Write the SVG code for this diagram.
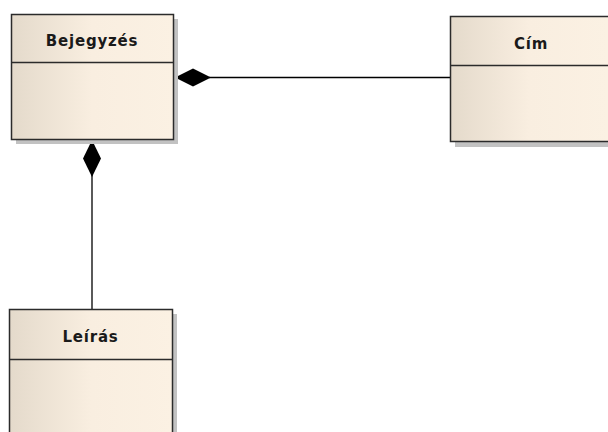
<svg xmlns="http://www.w3.org/2000/svg" width="608" height="432" viewBox="0 0 608 432">
  <defs>
    <linearGradient id="fillGrad" x1="0" y1="0" x2="1" y2="0">
      <stop offset="0" stop-color="#e4dacb"/>
      <stop offset="0.5" stop-color="#f9eee0"/>
      <stop offset="1" stop-color="#fbf1e3"/>
    </linearGradient>
    <linearGradient id="fillGradWide" gradientUnits="userSpaceOnUse" x1="450" y1="0" x2="608" y2="0">
      <stop offset="0" stop-color="#e4dacb"/>
      <stop offset="0.5" stop-color="#f9eee0"/>
      <stop offset="1" stop-color="#fbf1e3"/>
    </linearGradient>
    <style>
      .shadow { fill: #c2c2c2; }
      .box { stroke: #2b2b2b; stroke-width: 1.5; }
      .div { stroke: #2b2b2b; stroke-width: 1.5; }
      .label { font-family: "DejaVu Sans", Verdana, sans-serif; font-weight: bold; font-size: 15px; letter-spacing: 0.8px; fill: #1a1a1a; text-anchor: middle; }
      .conn { stroke: #000; stroke-width: 1.3; fill: none; }
      .diamond { fill: #000; stroke: none; }
    </style>
  </defs>

  <g id="connectors">
    <line class="conn" x1="209" y1="77.5" x2="450" y2="77.5"/>
    <polygon class="diamond" points="175,77.5 193,68.5 211,77.5 193,86.5"/>
    <line class="conn" x1="92" y1="175" x2="92" y2="309"/>
    <polygon class="diamond" points="92,140 101,158.5 92,177 83,158.5"/>
  </g>

  <g id="bejegyzes">
    <rect class="shadow" x="16" y="19" width="162" height="125"/>
    <rect class="box" x="11.5" y="14.5" width="162" height="125" fill="url(#fillGrad)"/>
    <line class="div" x1="11.5" y1="62.5" x2="173.5" y2="62.5"/>
    <text class="label" x="92" y="45.5">Bejegyzés</text>
  </g>

  <g id="cim">
    <rect class="shadow" x="455" y="21" width="200" height="126"/>
    <rect class="box" x="450.5" y="16.5" width="200" height="125" fill="url(#fillGradWide)"/>
    <line class="div" x1="450.5" y1="65.5" x2="650" y2="65.5"/>
    <text class="label" x="531" y="49">Cím</text>
  </g>

  <g id="leiras">
    <rect class="shadow" x="14" y="314" width="163" height="150"/>
    <rect class="box" x="9.5" y="309.5" width="163" height="150" fill="url(#fillGrad)"/>
    <line class="div" x1="9.5" y1="359.5" x2="172.5" y2="359.5"/>
    <text class="label" x="90.5" y="342">Leírás</text>
  </g>
</svg>
